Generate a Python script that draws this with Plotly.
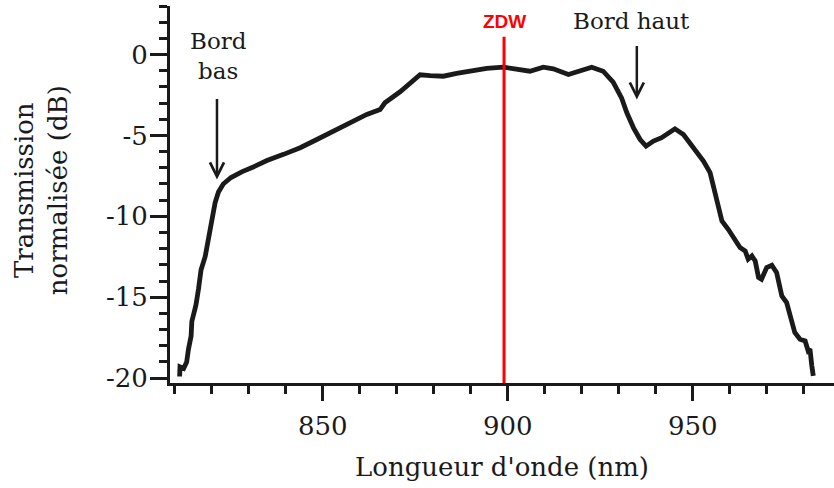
import plotly.graph_objects as go

# Transmission spectrum (wavelength in nm, normalised transmission in dB)
wavelength_nm = [811.3, 811.4, 812.4, 813.2, 813.7, 814.4, 814.6, 815.7, 816.4, 817.1,
                 818.2, 819.1, 820.0, 820.9, 821.8, 823.1, 825.2, 828.1, 831.7, 834.9,
                 839.4, 843.9, 848.4, 852.9, 857.4, 861.9, 865.5, 866.8, 870.9, 874.5,
                 876.3, 879.0, 882.6, 886.2, 889.8, 894.3, 898.8, 903.3, 906.0, 909.6,
                 912.3, 916.4, 919.5, 922.7, 925.8, 928.5, 930.8, 932.2, 934.0, 935.8,
                 937.4, 939.4, 941.6, 943.4, 945.2, 947.5, 949.3, 950.6, 952.9, 954.7,
                 956.0, 956.9, 957.9, 959.6, 961.5, 962.8, 964.2, 965.0, 966.0, 966.9,
                 967.8, 968.6, 970.0, 971.4, 972.7, 974.1, 975.4, 976.3, 977.6, 979.0,
                 980.4, 981.2, 981.7, 982.2, 982.6]
transmission_db = [-19.9, -19.3, -19.4, -19.0, -18.2, -17.4, -16.5, -15.5, -14.5, -13.3,
                   -12.5, -11.4, -10.4, -9.15, -8.5, -8.0, -7.6, -7.25, -6.9, -6.55,
                   -6.17, -5.76, -5.25, -4.73, -4.22, -3.7, -3.4, -2.98, -2.3, -1.54,
                   -1.25, -1.3, -1.34, -1.17, -1.03, -0.85, -0.78, -0.97, -1.03, -0.78,
                   -0.88, -1.23, -0.97, -0.78, -1.03, -1.7, -2.7, -3.6, -4.53, -5.25,
                   -5.66, -5.35, -5.14, -4.84, -4.59, -4.94, -5.5, -5.86, -6.58, -7.3,
                   -8.54, -9.57, -10.29, -10.8, -11.42, -11.93, -12.14, -12.65, -12.45, -12.76,
                   -13.78, -13.89, -13.17, -13.02, -13.48, -14.92, -15.33, -16.15, -17.18, -17.6,
                   -17.7, -18.3, -18.2, -19.24, -19.86]

zdw_nm = 899.0
zdw_top_db = 1.1

x_range = [808.7, 988.2]
y_range = [-20.3, 3.0]

x_tick_values = [850, 900, 950]
x_tick_labels = ["850", "900", "950"]
y_tick_values = [-20, -15, -10, -5, 0]
y_tick_labels = ["-20", "-15", "-10", "-5", "0"]

# annotation anchors (data units)
bord_bas_tip = (821.4, -7.72)
bord_haut_tip = (934.9, -2.78)

INK = "#1a1a1a"
SERIF = "DejaVu Serif"

fig = go.Figure()
fig.add_trace(go.Scatter(
    x=wavelength_nm, y=transmission_db, mode="lines",
    line=dict(color=INK, width=4.8), showlegend=False, hoverinfo="skip"))

fig.add_shape(type="line", xref="x", yref="y",
              x0=zdw_nm, x1=zdw_nm, y0=y_range[0], y1=zdw_top_db,
              line=dict(color="#ff0000", width=3))

annotations = [
    dict(x=zdw_nm, y=2.05, xref="x", yref="y", text="<b>ZDW</b>", showarrow=False,
         font=dict(family="Liberation Sans", size=19, color="#ff0000"),
         xanchor="center", yanchor="middle"),
    dict(x=821.8, y=-0.1, xref="x", yref="y", text="Bord<br>bas", showarrow=False,
         font=dict(family=SERIF, size=23, color=INK), xanchor="center", yanchor="middle"),
    dict(x=933.5, y=2.1, xref="x", yref="y", text="Bord haut", showarrow=False,
         font=dict(family=SERIF, size=23, color=INK), xanchor="center", yanchor="middle"),
    dict(x=bord_bas_tip[0], y=bord_bas_tip[1], xref="x", yref="y", text="",
         showarrow=True, ax=0, ay=-82, arrowhead=5, arrowsize=1.1, arrowwidth=2.5,
         arrowcolor=INK),
    dict(x=bord_haut_tip[0], y=bord_haut_tip[1], xref="x", yref="y", text="",
         showarrow=True, ax=0, ay=-55, arrowhead=5, arrowsize=1.1, arrowwidth=2.5,
         arrowcolor=INK),
    dict(x=-0.195, y=0.51, xref="paper", yref="paper",
         text="Transmission<br>normalisée (dB)", textangle=-90, showarrow=False,
         font=dict(family=SERIF, size=26, color=INK), xanchor="center", yanchor="middle"),
]

fig.update_layout(
    width=834, height=488,
    margin=dict(l=170, r=0, t=6, b=105),
    paper_bgcolor="white", plot_bgcolor="white",
    font=dict(family=SERIF, size=26, color=INK),
    annotations=annotations,
    xaxis=dict(
        range=x_range, showgrid=False, zeroline=False, automargin=False,
        showline=True, linewidth=3, linecolor=INK,
        ticks="outside", ticklen=15, tickwidth=3, tickcolor=INK,
        tickmode="array", tickvals=x_tick_values, ticktext=x_tick_labels,
        ticklabelstandoff=3,
        tickfont=dict(family=SERIF, size=26, color=INK),
        minor=dict(ticks="outside", ticklen=8, tickwidth=3, tickcolor=INK,
                   dtick=10, tick0=810),
        title=dict(text="Longueur d'onde (nm)", font=dict(family=SERIF, size=26, color=INK),
                   standoff=18),
    ),
    yaxis=dict(
        range=y_range, showgrid=False, zeroline=False, automargin=False,
        showline=True, linewidth=3, linecolor=INK,
        ticks="outside", ticklen=17, tickwidth=3, tickcolor=INK,
        tickmode="array", tickvals=y_tick_values, ticktext=y_tick_labels,
        ticklabelstandoff=-3,
        tickfont=dict(family=SERIF, size=26, color=INK),
        minor=dict(ticks="outside", ticklen=8, tickwidth=3, tickcolor=INK,
                   dtick=1, tick0=0),
    ),
)

fig.write_html("out.html", config={"displayModeBar": False},
               post_script="document.body.style.margin='0';")
